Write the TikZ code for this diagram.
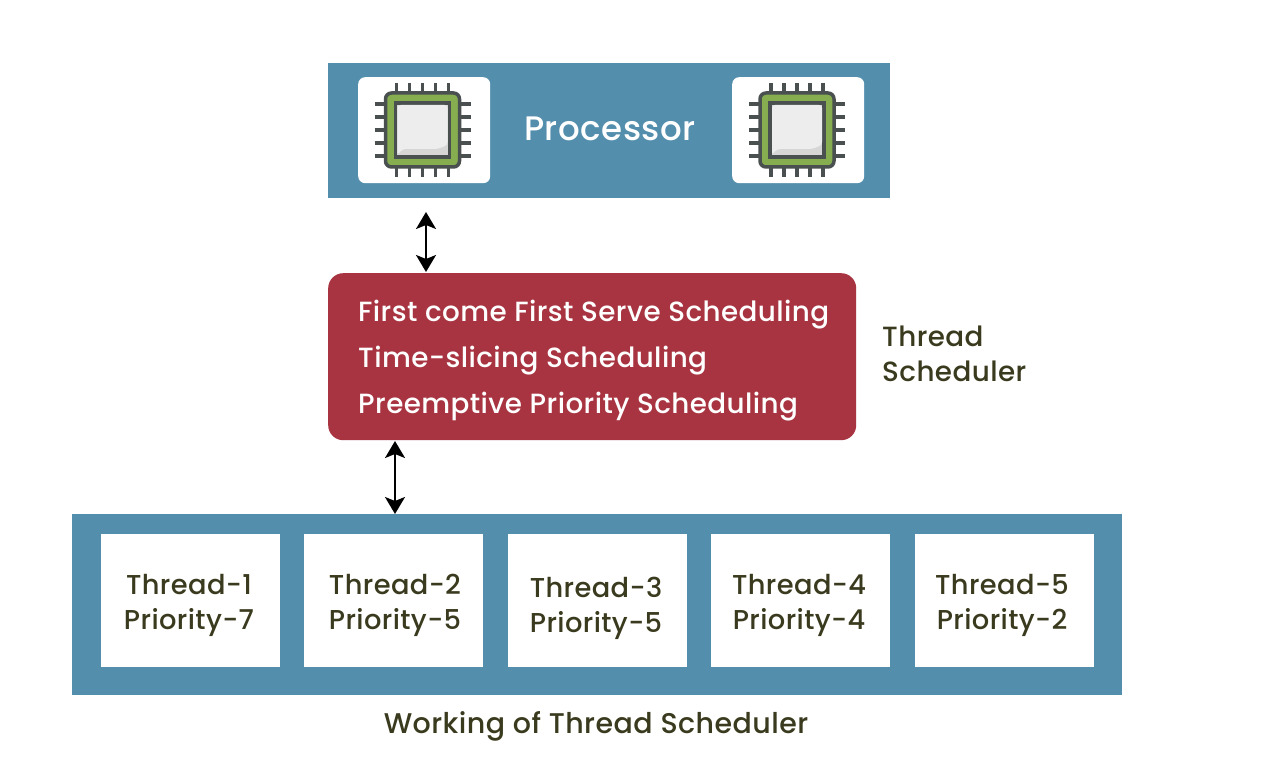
\documentclass[tikz,border=0pt]{standalone}
\usepackage{fontspec}
\setmainfont{Poppins Medium}[LetterSpace=1.5]
\usetikzlibrary{arrows.meta}
\definecolor{bluebar}{HTML}{548EAD}
\definecolor{redbox}{HTML}{A73440}
\definecolor{txtdark}{HTML}{3A3A1E}
\definecolor{chipdark}{HTML}{4A5050}
\definecolor{chipgreen}{HTML}{86AE50}
\definecolor{chipface}{HTML}{EDEDED}
\definecolor{chipshade}{HTML}{D6D6D6}
\tikzset{
  x=1pt,y=-1pt,
  bar/.style={fill=bluebar,draw=none,anchor=north west,inner sep=0pt},
  tile/.style={fill=white,draw=none,rounded corners=7pt,anchor=north west,inner sep=0pt,minimum width=132pt,minimum height=106pt},
  thbox/.style={fill=white,draw=none,inner sep=0pt,minimum width=179pt,minimum height=133pt},
  thlabel/.style={font=\fontsize{27.3}{35}\selectfont,text=txtdark,align=center,inner sep=0pt},
  sched/.style={font=\fontsize{27.8}{30}\selectfont,text=white,anchor=west,inner sep=0pt},
  dark/.style={font=\fontsize{27.8}{35}\selectfont,text=txtdark,inner sep=0pt},
  dbl/.style={line width=2.2pt,black,{Stealth[length=17pt,width=20pt,inset=4pt]}-{Stealth[length=17pt,width=20pt,inset=4pt]}},
  pin/.style={line width=3.5pt,chipdark},
}
\newcommand{\chipicon}[2]{%
  \begin{scope}[shift={(#1,#2)}]
    \foreach \d in {-26,-13,0,13,26}{
      \draw[pin] (\d,-47) -- (\d,47);
      \draw[pin] (-48,\d) -- (48,\d);
    }
    \fill[chipgreen,draw=chipdark,line width=3.5pt,rounded corners=6pt] (-37,-37) rectangle (37,37);
    \fill[chipshade,draw=chipdark,line width=3.5pt] (-27,-27) rectangle (27,27);
    \fill[chipface,rounded corners=3pt] (-25,-25) -- (25,-25) -- (25,15) -- (15,19) -- (-20,19) -- (-25,25) -- cycle;
  \end{scope}}
\begin{document}
\begin{tikzpicture}
\useasboundingbox (0,0) rectangle (1274,770);
\fill[white] (0,0) rectangle (1274,770);
\node[bar,minimum width=562pt,minimum height=135pt] (proc) at (328,63) {};
\node[tile] (tileA) at (358,77) {};
\node[tile] (tileB) at (732,77) {};
\chipicon{422.5}{130}
\chipicon{797}{130}
\node[font=\fontsize{34}{38}\selectfont,text=white,inner sep=0pt] (proclabel) at (610,129) {Processor};
\node[fill=redbox,draw=none,rounded corners=15pt,anchor=north west,inner sep=0pt,minimum width=528pt,minimum height=167pt] (schedbox) at (328,273) {};
\node[sched] (s1) at (358,315) {First come First Serve Scheduling};
\node[sched] (s2) at (358,361) {Time-slicing Scheduling};
\node[sched] (s3) at (358,407) {Preemptive Priority Scheduling};
\node[dark,align=left,anchor=west] (schedlabel) at (882,354) {Thread\\Scheduler};
\node[bar,minimum width=1050pt,minimum height=181pt] (threads) at (72,514) {};
\node[thbox] (t1) at (190,600) {};
\node[thbox] (t2) at (393.5,600) {};
\node[thbox] (t3) at (597,600) {};
\node[thbox] (t4) at (800.5,600) {};
\node[thbox] (t5) at (1004,600) {};
\node[thlabel] (l1) at (189,605) {Thread-1\\Priority-7};
\node[thlabel] (l2) at (395,605) {Thread-2\\Priority-5};
\node[thlabel] (l3) at (596,608) {Thread-3\\Priority-5};
\node[thlabel] (l4) at (799,605) {Thread-4\\Priority-4};
\node[thlabel] (l5) at (1002,605) {Thread-5\\Priority-2};
\node[dark,font=\fontsize{28.5}{35}\selectfont] (caption) at (596,726) {Working of Thread Scheduler};
\coordinate (a1top) at (426,212);
\coordinate (a1bot) at (426,272);
\coordinate (a2top) at (395,441);
\coordinate (a2bot) at (395,514);
\draw[dbl] (a1top) -- (a1bot);
\draw[dbl] (a2top) -- (a2bot);
\end{tikzpicture}
\end{document}
